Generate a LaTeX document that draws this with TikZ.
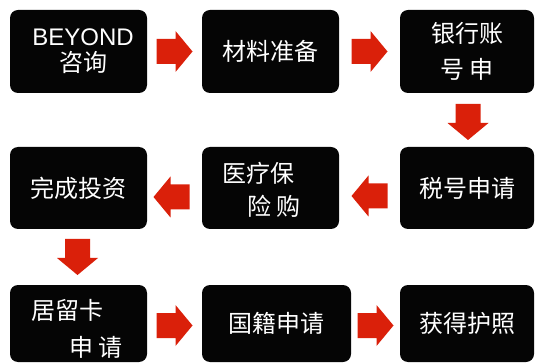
\documentclass[tikz,border=0pt]{standalone}
\usepackage{fontspec}
\setmainfont{Liberation Sans}
\newfontfamily\cjk{Noto Sans CJK SC}
\usetikzlibrary{calc}

\definecolor{arrowred}{RGB}{218,32,10}
\definecolor{boxblack}{RGB}{5,5,5}

\tikzset{
	stepbox/.style={fill=boxblack,rounded corners=8pt,text=white,inner sep=0pt,
		font=\cjk\fontsize{24}{36}\selectfont,align=center},
	steptext/.style={text=white,inner sep=0pt,
		font=\cjk\fontsize{24}{36}\selectfont,align=left},
	blockarr/.pic={
		\fill[arrowred] (-18,-12.5) -- (1,-12.5) -- (1,-20.5) -- (18,0)
		-- (1,20.5) -- (1,12.5) -- (-18,12.5) -- cycle;}
}

\begin{document}
\begin{tikzpicture}[x=1pt,y=-1pt]
	\useasboundingbox (0,0) rectangle (535,363);
	% first row
	\node[stepbox,minimum width=137,minimum height=83] (beyond) at (78.5,51.5) {};
	\node[steptext,align=center] (beyondtxt) at ($(beyond.center)+(4.5,0)$)
		{\rmfamily BEYOND\\[-10pt]咨询};
	\node[stepbox,minimum width=137,minimum height=83] (cailiao) at (270.5,51.5)
		{材料准备};
	\node[stepbox,minimum width=134,minimum height=83] (yinhang) at (467,51.5)
		{银行账\\号 申};
	% second row
	\node[stepbox,minimum width=134,minimum height=82] (shuihao) at (467,188)
		{税号申请};
	\node[stepbox,minimum width=137,minimum height=82] (yiliao) at (270.5,188) {};
	\node[steptext] (yiliaotxt) at ($(yiliao.center)+(-9,2)$)
		{医疗保\\[-3pt]\hspace{25pt}险 购};
	\node[stepbox,minimum width=137,minimum height=82] (touzi) at (78.5,188)
		{完成投资};
	% third row
	\node[stepbox,minimum width=137,minimum height=77] (juliu) at (78.5,323.5) {};
	\node[steptext] (juliutxt) at ($(juliu.center)+(-1.5,5)$)
		{居留卡\\[1pt]\hspace{38pt}申 请};
	\node[stepbox,minimum width=149,minimum height=77] (guoji) at (276.5,323.5)
		{国籍申请};
	\node[stepbox,minimum width=134,minimum height=77] (huzhao) at (467,323.5)
		{获得护照};

	% arrows
	\pic at ($(beyond.east)!0.5!(cailiao.west)$) {blockarr};
	\pic at ($(cailiao.east)!0.5!(yinhang.west)$) {blockarr};
	\pic[rotate=-90] at ($(yinhang.south)!0.5!(shuihao.north)+(1,2)$) {blockarr};
	\pic[rotate=180] at ($(shuihao.west)!0.5!(yiliao.east)+(0,8)$) {blockarr};
	\pic[rotate=180] at ($(yiliao.west)!0.5!(touzi.east)+(-3,9)$) {blockarr};
	\pic[rotate=-90] at ($(touzi.south)!0.5!(juliu.north)+(-1,0)$) {blockarr};
	\pic at ($(juliu.east)!0.5!(guoji.west)+(0,2)$) {blockarr};
	\pic at ($(guoji.east)!0.5!(huzhao.west)+(0,2)$) {blockarr};
\end{tikzpicture}
\end{document}
